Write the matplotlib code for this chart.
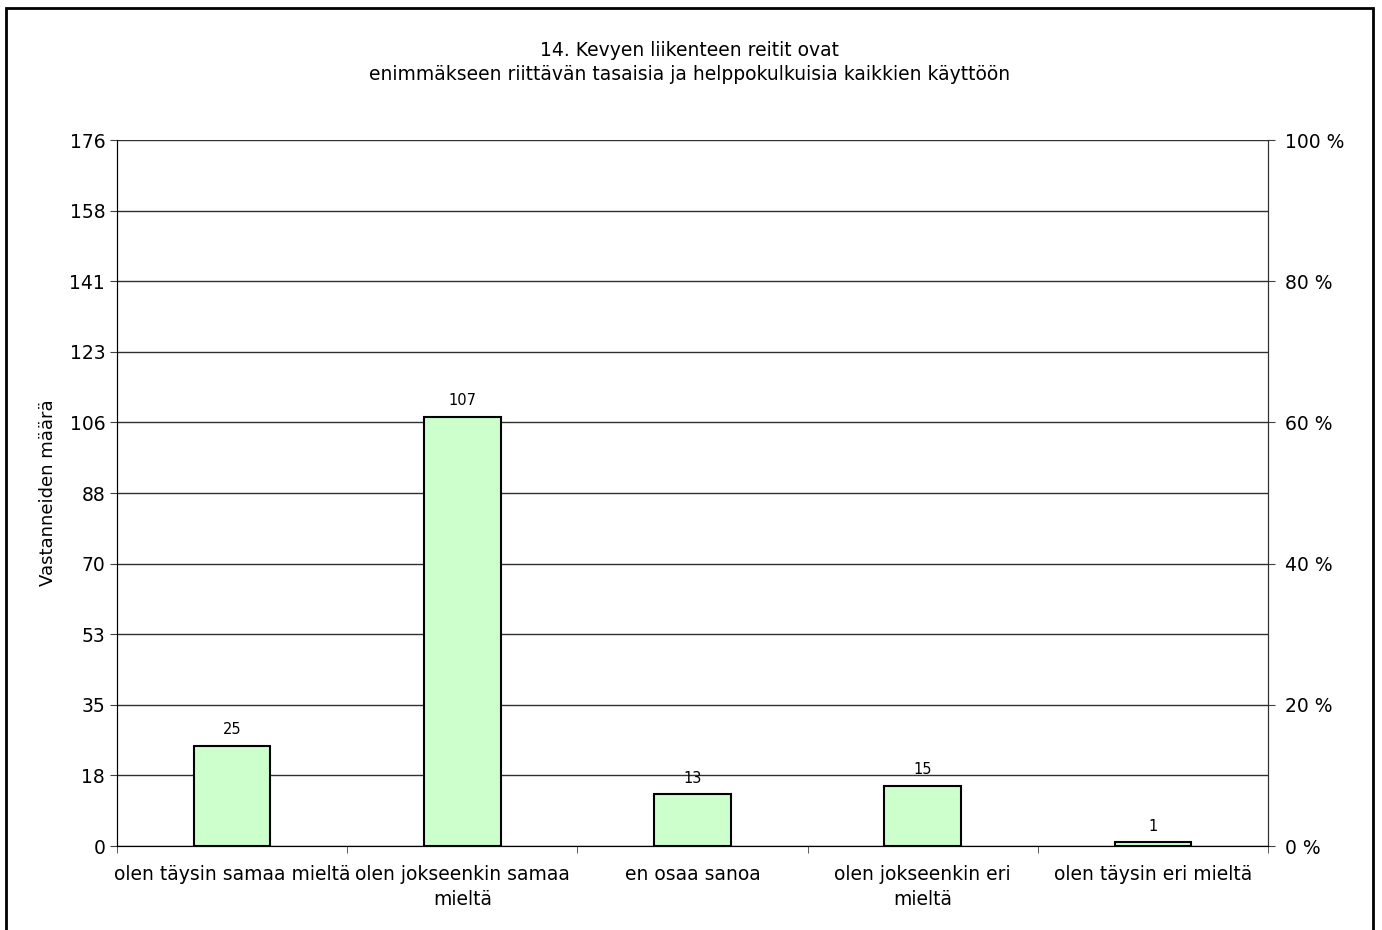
import matplotlib.pyplot as plt
from matplotlib.patches import Rectangle
import numpy as np

# survey answers
categories = ['olen täysin samaa mieltä', 'olen jokseenkin samaa\nmieltä', 'en osaa sanoa',
              'olen jokseenkin eri\nmieltä', 'olen täysin eri mieltä']
counts = [25, 107, 13, 15, 1]
y_max = 176
y_labels = ['0', '18', '35', '53', '70', '88', '106', '123', '141', '158', '176']
pct_labels = ['0 %', '20 %', '40 %', '60 %', '80 %', '100 %']

fig = plt.figure(figsize=(13.82, 9.30), dpi=100)
ax = fig.add_axes([117/1382, 1-846/930, (1268-117)/1382, (846-140)/930])

x = np.arange(len(categories))
ax.bar(x, counts, width=1/3, color='#ccffcc', edgecolor='black', linewidth=1.5, zorder=3)
for xi, v in zip(x, counts):
    ax.annotate(str(v), (xi, v), xytext=(0, 6), textcoords='offset points',
                ha='center', va='bottom', fontsize=10.5, zorder=4)

ax.set_xlim(-0.5, len(categories) - 0.5)
ax.set_ylim(0, y_max)
yt = np.linspace(0, y_max, len(y_labels))
ax.set_yticks(yt)
ax.set_yticklabels(y_labels, fontsize=13.5)
ax.yaxis.grid(True, color='#303030', linewidth=1)
ax.set_axisbelow(True)
ax.set_ylabel('Vastanneiden määrä', fontsize=13, labelpad=9)

ax.set_xticks(x)
ax.set_xticklabels(categories, fontsize=13.5, linespacing=1.4)
ax.tick_params(axis='x', length=0, pad=14)
ax.set_xticks(np.arange(-0.5, len(categories)), minor=True)
ax.tick_params(axis='x', which='minor', length=5, color='#404040')
ax.tick_params(axis='y', length=5, color='#404040')

ax.spines['top'].set_visible(False)
for s in ['left', 'right', 'bottom']:
    ax.spines[s].set_color('#303030')

ax2 = ax.twinx()
ax2.set_ylim(0, 100)
ax2.set_yticks(np.linspace(0, 100, len(pct_labels)))
ax2.set_yticklabels(pct_labels, fontsize=13.5)
ax2.tick_params(axis='y', length=5, color='#404040', pad=7)
ax2.spines['top'].set_visible(False)
ax2.spines['right'].set_color('#303030')

fig.text(690/1382, 1-50/930, '14. Kevyen liikenteen reitit ovat', ha='center', va='center', fontsize=13.5)
fig.text(690/1382, 1-75/930, 'enimmäkseen riittävän tasaisia ja helppokulkuisia kaikkien käyttöön',
         ha='center', va='center', fontsize=13.5)

# frame round the whole chart
fig.patches.append(Rectangle((6/1382, -0.02), (1373-6)/1382, 1-8/930+0.02, transform=fig.transFigure,
                             fill=False, edgecolor='black', linewidth=2))

plt.savefig('out.png', dpi=100)
